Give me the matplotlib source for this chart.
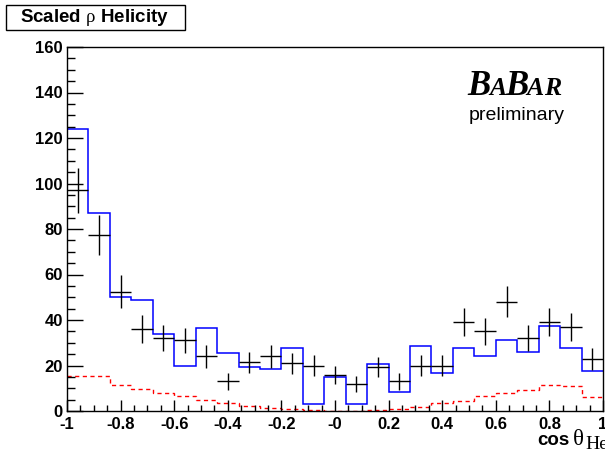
import numpy as np
import matplotlib.pyplot as plt
from matplotlib.patches import Rectangle
from matplotlib.ticker import MultipleLocator, FixedLocator

plt.rcParams['font.family'] = ['Liberation Sans', 'DejaVu Sans']
plt.rcParams['mathtext.fontset'] = 'custom'
plt.rcParams['mathtext.rm'] = 'Liberation Serif'
plt.rcParams['mathtext.it'] = 'Liberation Serif:italic'

W, H = 605, 455

# 25 bins in cos(theta_Hel)
edges = np.linspace(-1, 1, 26)
centers = 0.5 * (edges[1:] + edges[:-1])

# fitted total (blue)
fit = [124, 87, 50, 49, 34, 20, 36.5, 25.5, 19.5, 18.5, 27.5, 3, 15,
       3, 20.5, 8.5, 28.5, 16.5, 27.5, 24, 31, 26, 37.5, 27.5, 17.5]
# data points
data = [97, 77.5, 52.5, 36, 32, 31, 24, 13, 21.5, 24, 21, 20, 16,
        12, 19.5, 13, 20, 20, 39, 35, 48, 32, 39, 37, 23]
data_err = [9.8, 8.8, 7.2, 6.0, 5.6, 5.6, 4.9, 3.6, 4.6, 4.9, 4.6, 4.5, 4.0,
            3.5, 4.4, 3.6, 4.5, 4.5, 6.2, 5.9, 6.9, 5.7, 6.2, 6.1, 4.8]
# background (red dashed)
bkg = [15.4, 15.4, 11.5, 9.8, 8.1, 6.6, 4.9, 3.4, 2.4, 1.4, 0.8, 0.3, 0.1,
       0.1, 0.3, 0.7, 1.8, 3.3, 4.6, 6.6, 8.0, 9.3, 11.5, 11.2, 6.0]

xticks = [-1, -0.8, -0.6, -0.4, -0.2, 0, 0.2, 0.4, 0.6, 0.8, 1]
xlabels = ["-1", "-0.8", "-0.6", "-0.4", "-0.2", "-0", "0.2", "0.4", "0.6", "0.8", "1"]
yticks = [0, 20, 40, 60, 80, 100, 120, 140, 160]


def px(x, y):
    # pixel position (from top left) -> figure fraction
    return x / W, 1 - y / H


fig = plt.figure(figsize=(W / 100, H / 100), dpi=100)
ax = fig.add_axes([67 / W, 1 - 411 / H, 536 / W, 364 / H])

ax.stairs(fit, edges, color='#0000ff', lw=1.1, baseline=None)
ax.stairs(bkg, edges, color='#ff0000', lw=1.0, ls=(0, (3, 2.5)), baseline=None)
ax.errorbar(centers, data, xerr=0.04, yerr=data_err, fmt='none',
            ecolor='black', elinewidth=1.0, capsize=0)

ax.set_xlim(-1, 1)
ax.set_ylim(0, 160)
ax.xaxis.set_major_locator(FixedLocator(xticks))
ax.set_xticklabels(xlabels)
ax.xaxis.set_minor_locator(MultipleLocator(0.05))
ax.yaxis.set_major_locator(FixedLocator(yticks))
ax.yaxis.set_minor_locator(MultipleLocator(5))

ax.tick_params(axis='both', which='both', direction='in', width=1.0,
               top=False, right=False, labelsize=12)
ax.tick_params(axis='x', which='major', length=8, pad=4)
ax.tick_params(axis='x', which='minor', length=4)
ax.tick_params(axis='y', which='major', length=11.5, pad=3)
ax.tick_params(axis='y', which='minor', length=5.8)
for lab in ax.get_xticklabels() + ax.get_yticklabels():
    lab.set_fontweight('bold')
for s in ax.spines.values():
    s.set_linewidth(1.0)

# title box
fig.add_artist(Rectangle(px(6, 30), 179 / W, 25 / H, transform=fig.transFigure,
                         facecolor='white', edgecolor='black', lw=1.0))
fig.text(*px(94, 18), r"Scaled $\mathrm{\rho}$ Helicity", fontsize=13.5,
         fontweight='bold', ha='center', va='center')

# x axis title, clipped at right edge
fig.text(*px(537, 445), "cos", fontsize=13.5, fontweight='bold', va='baseline')
fig.text(*px(573, 445), "\u03b8", fontsize=16.5, family='Liberation Serif', va='baseline')
fig.text(*px(585, 449), "Hel", fontsize=14, family='Liberation Serif', va='baseline')

# BaBar logo
logo = dict(family='Liberation Serif', fontweight='bold', style='italic', va='baseline')
fig.text(*px(467, 95), "B", fontsize=25, **logo)
fig.text(*px(489, 95), "A", fontsize=18.5, **logo)
fig.text(*px(505, 95), "B", fontsize=25, **logo)
fig.text(*px(526, 95), "A", fontsize=18.5, **logo)
fig.text(*px(544, 95), "R", fontsize=18.5, **logo)
fig.text(*px(516.5, 120), "preliminary", fontsize=14, ha='center', va='baseline')

fig.savefig("out.png", dpi=100)
